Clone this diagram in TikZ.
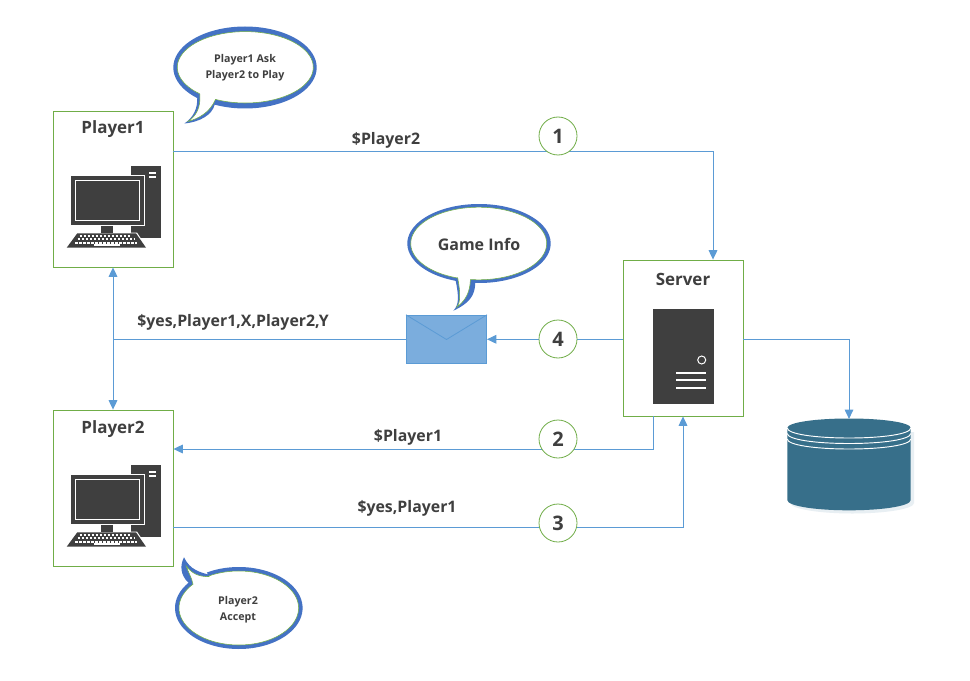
\documentclass[tikz,border=0pt]{standalone}
\usepackage{fontspec}
\setmainfont{Open Sans}
\usetikzlibrary{arrows.meta}
\definecolor{boxgreen}{HTML}{70AD47}
\definecolor{linkblue}{HTML}{5B9BD5}
\definecolor{bubbleblue}{HTML}{4472C4}
\definecolor{inkdark}{HTML}{3F3F3F}
\definecolor{envfill}{HTML}{7BADDD}
\definecolor{dbfill}{HTML}{376F8A}
\definecolor{dbshadow}{HTML}{E8EFF3}
\tikzset{
  x=0.75pt,y=-0.75pt,
  framebox/.style={draw=boxgreen,line width=0.65pt,fill=white,minimum width=90pt,minimum height=117pt,inner sep=0pt},
  stepcircle/.style={circle,draw=boxgreen,line width=0.6pt,fill=white,minimum size=28.5pt,inner sep=0pt,text=inkdark,font=\bfseries\fontsize{15}{18}\selectfont},
  title/.style={text=inkdark,font=\bfseries\fontsize{12.7}{14}\selectfont,inner sep=0pt},
  linklabel/.style={text=inkdark,font=\bfseries\fontsize{11.9}{14}\selectfont,inner sep=0pt},
  smalllabel/.style={text=inkdark,font=\bfseries\fontsize{8}{12}\selectfont,inner sep=0pt,align=center},
  link/.style={draw=linkblue,line width=0.7pt},
  arrowed/.style={link,-{Triangle[length=7pt,width=6.5pt]}},
  bubbleouter/.style={fill=bubbleblue},
  bubbleinner/.style={fill=white,draw=boxgreen,line width=0.4pt},
}
% center x, center y, rx, ry, start angle, end angle, tail path
\newcommand{\bubblepath}[7]{plot[domain=#5:#6,samples=70,smooth] ({#1+#3*cos(\x)},{#2+#4*sin(\x)}) #7 -- cycle}
\newcommand{\computericon}{%
  \fill[inkdark] (131,165.7) rectangle (161,237.7);
  \fill[white] (149.3,171.7) rectangle (156,174.3);
  \fill[white] (149.3,175.7) rectangle (156,178.3);
  \fill[white] (70,174.7) rectangle (144.7,226);
  \fill[inkdark] (71,175.7) rectangle (143.7,225);
  \draw[white,line width=0.75pt] (75.5,180.5) rectangle (139.5,220.5);
  \fill[inkdark] (101,225.7) rectangle (113,233.3);
  \fill[white] (130,232.5) -- (137,232.5) -- (147.5,248.5) -- (130,248.5) -- cycle;
  \fill[inkdark] (77.3,233.3) -- (136,233.3) -- (146,247.7) -- (66.7,247.7) -- cycle;
  \draw[white,line width=1.6pt,dash pattern=on 2.1pt off 0.9pt] (79.5,236) -- (131,236);
  \draw[white,line width=1.6pt,dash pattern=on 2.1pt off 0.9pt] (77.5,239.3) -- (134,239.3);
  \draw[white,line width=1.6pt,dash pattern=on 2.1pt off 0.9pt] (75,242.6) -- (137,242.6);
  \fill[white] (93.5,244.2) rectangle (120,246.2);
}
\begin{document}
\begin{tikzpicture}
\useasboundingbox (0,0) rectangle (970,681);
\fill[white] (0,0) rectangle (970,681);

% frames
\node[framebox] (player1) at (113,189) {};
\node[framebox] (player2) at (113,488) {};
\node[framebox] (server) at (683,338) {};
\node[title] (t1) at (113,129.5) {Player1};
\node[title] (t2) at (113,429.5) {Player2};
\node[title] (t3) at (683,279) {Server};

% icons
\computericon
\begin{scope}[shift={(0,299)}]\computericon\end{scope}
\fill[inkdark] (653,309) rectangle (714,404);
\draw[white,line width=0.75pt] (701.7,360) circle (4);
\foreach \yy in {373.3,380.3,388} \draw[white,line width=1.3pt] (676.3,\yy) -- (706.3,\yy);

% envelope
\node[draw=linkblue,fill=envfill,line width=0.75pt,minimum width=60pt,minimum height=36pt,inner sep=0pt] (mail) at (446.5,339.3) {};
\coordinate (flap) at (446.5,339.5);
\draw[linkblue,line width=0.6pt] (mail.north west) -- (flap) -- (mail.north east);

% database
\node[inner sep=0pt,minimum width=92.5pt,minimum height=68pt] (db) at (849,464.5) {};
\fill[dbshadow] (790.5,432) -- (914,432) -- (914,503) .. controls (914,509) and (885,513.5) .. (852.3,513.5) .. controls (820,513.5) and (790.5,509) .. (790.5,503) -- cycle;
\fill[dbfill] (787.3,428) .. controls (787.3,422.5) and (815,418.5) .. (849,418.5) .. controls (883,418.5) and (910.7,422.5) .. (910.7,428) -- (910.7,500) .. controls (910.7,506) and (883,510.3) .. (849,510.3) .. controls (815,510.3) and (787.3,506) .. (787.3,500) -- cycle;
\draw[white,line width=0.7pt] (787.3,428) .. controls (787.3,434) and (815,438) .. (849,438) .. controls (883,438) and (910.7,434) .. (910.7,428);
\draw[white,line width=0.7pt] (787.3,433.5) .. controls (787.3,439.5) and (815,443.5) .. (849,443.5) .. controls (883,443.5) and (910.7,439.5) .. (910.7,433.5);
\draw[white,line width=0.7pt] (787.3,439) .. controls (787.3,445) and (815,449) .. (849,449) .. controls (883,449) and (910.7,445) .. (910.7,439);

% connectors
\draw[arrowed] ([yshift=28.5pt]player1.east) -| ([xshift=22.5pt]server.north);
\draw[arrowed] (server.west |- mail.east) -- (mail.east);
\coordinate (junction) at (113,339.3);
\draw[link] (mail.west) -- (junction);
\draw[arrowed] (junction) -- (player1.south);
\draw[arrowed] (junction) -- (player2.north);
\draw[arrowed] ([xshift=-22.5pt]server.south) |- ([yshift=29.25pt]player2.east);
\draw[arrowed] ([yshift=-29.25pt]player2.east) -| (server.south);
\draw[arrowed] (server.east |- mail.east) -| (db.north);

% step circles
\node[stepcircle] (s1) at (558,136) {1};
\node[stepcircle] (s4) at (558,339) {4};
\node[stepcircle] (s2) at (558,439) {2};
\node[stepcircle] (s3) at (558,523) {3};

% link labels
\node[linklabel] (l1) at (386,140) {\$Player2};
\node[linklabel] (l2) at (233,322) {\$yes,Player1,X,Player2,Y};
\node[linklabel] (l3) at (408,437) {\$Player1};
\node[linklabel] (l4) at (407,508.5) {\$yes,Player1};

% bubbles
\fill[bubbleouter] \bubblepath{245}{67.5}{71.7}{41}{130}{475}{.. controls (212,115) and (200,122) .. (184.3,123.5) .. controls (193,118) and (198,108) .. (197,98.5)};
\draw[bubbleinner] \bubblepath{245.3}{67.3}{68}{35.7}{132}{476}{.. controls (210,112) and (200,118) .. (188,121.5) .. controls (196,116) and (201,108) .. (199.8,93.8)};
\node[smalllabel] (b1) at (245,68) {Player1 Ask\\Player2 to Play};

\fill[bubbleouter] \bubblepath{479}{243.5}{71.7}{39.5}{109}{453}{.. controls (475,295) and (470,303) .. (453.3,310.7) .. controls (459,305) and (459,297) .. (455.7,280.8)};
\draw[bubbleinner] \bubblepath{478.7}{243.5}{68}{36.3}{108}{457}{.. controls (470,292) and (466,300) .. (457,307) .. controls (460,303) and (461,295) .. (457.7,278)};
\node[smalllabel,font=\bfseries\fontsize{12}{14}\selectfont] (b2) at (479,244) {Game Info};

\fill[bubbleouter] \bubblepath{238.8}{608}{63.8}{41}{240}{578}{.. controls (180,575) and (180,565) .. (184,557.3) .. controls (190,570) and (200,572) .. (208,574.5)};
\draw[bubbleinner] \bubblepath{238.8}{608}{59.8}{37}{240}{580}{.. controls (192,578) and (188,572) .. (186.3,566) .. controls (192,574) and (200,577) .. (209,576.5)};
\node[smalllabel] (b3) at (238,609.5) {Player2\\Accept};
\end{tikzpicture}
\end{document}
